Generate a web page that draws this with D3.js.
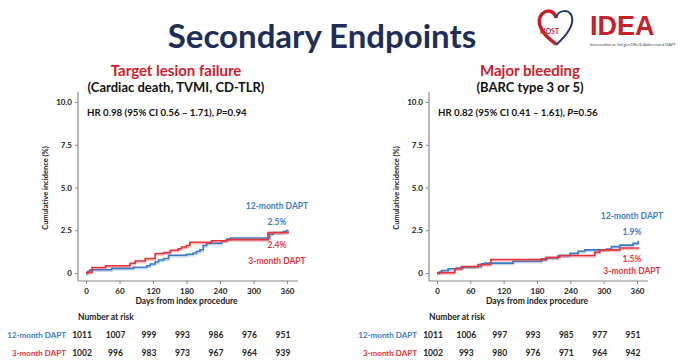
<!DOCTYPE html>
<html>
<head>
<meta charset="utf-8">
<script src="https://cdn.jsdelivr.net/npm/d3@7"></script>
<style>
  body { margin: 0; background: #fff; }
  text { font-family: Lato, "Open Sans", sans-serif; }
</style>
</head>
<body>
<svg id="chart" width="686" height="364"></svg>
<script>
// tick values
const dayTicks = [0, 60, 120, 180, 240, 300, 360];
const incTicks = [0, 2.5, 5, 7.5, 10];

// target lesion failure, [day, cumulative %]
const tlf12 = [[0,0],[3,0.1],[7,0.19],[46,0.27],[85,0.34],[109,0.42],[115,0.53],[124,0.66],[130,0.76],[139,0.85],[148,1.04],[180,1.1],[192,1.17],[198,1.27],[204,1.36],[210,1.61],[216,1.74],[243,1.89],[252,1.99],[258,2.05],[329,2.27],[335,2.37],[353,2.42],[359,2.48],[362,2.5]];
const tlf3 = [[0,0],[3,0.04],[11,0.32],[35,0.42],[79,0.57],[88,0.7],[106,0.85],[124,1.14],[139,1.19],[151,1.33],[165,1.42],[171,1.52],[180,1.61],[186,1.8],[225,1.89],[252,1.95],[326,2.37],[362,2.4]];

// major bleeding
const mb12 = [[0,0],[4,0.06],[8,0.15],[20,0.25],[35,0.29],[47,0.35],[68,0.38],[80,0.54],[86,0.58],[137,0.69],[188,0.77],[197,0.88],[218,1.02],[239,1.15],[254,1.27],[266,1.35],[305,1.4],[314,1.54],[329,1.63],[353,1.73],[362,1.88]];
const mb3 = [[0,0],[4,0.02],[32,0.25],[44,0.38],[74,0.5],[97,0.79],[188,0.83],[197,0.92],[221,1.02],[284,1.21],[293,1.35],[329,1.46],[362,1.5]];

// number at risk
const risk12Tlf = [1011, 1007, 999, 993, 986, 976, 951];
const risk3Tlf = [1002, 996, 983, 973, 967, 964, 939];
const risk12Mb = [1011, 1006, 997, 993, 985, 977, 951];
const risk3Mb = [1002, 993, 980, 976, 971, 964, 942];

const blue = "#3a7bc4", red = "#e8323a", navy = "#1f2d5a";

let svg = d3.select("#chart");

// main title
svg.append("text")
    .attr("x", 322).attr("y", 48)
    .attr("text-anchor", "middle")
    .style("font-weight", "bold").style("font-size", "33px")
    .style("fill", navy)
    .text("Secondary Endpoints");

// logo
let logo = svg.append("g").attr("transform", "translate(536,6)");
logo.append("path")
    .attr("d", "M20,38 C4,27 0,15 6,8 C12,2 19,6 20,12")
    .attr("fill", "none").attr("stroke", "#c8202a").attr("stroke-width", 3.5);
logo.append("path")
    .attr("d", "M20,12 C22,4 33,2 36,11 C38,20 30,30 20,39")
    .attr("fill", "none").attr("stroke", "#223b7a").attr("stroke-width", 2);
logo.append("text").attr("x", 4).attr("y", 28)
    .style("font-size", "7px").style("font-weight", "bold").style("fill", "#c8202a").text("HOST");
logo.append("text").attr("x", 54).attr("y", 29)
    .style("font-size", "27px").style("font-weight", "bold").style("fill", "#c8202a")
    .style("font-family", "'Liberation Sans', Arial, sans-serif").text("IDEA");
logo.append("text").attr("x", 54).attr("y", 40)
    .style("font-size", "4px").style("fill", "#444")
    .text("Intervention w 3rd gen DEs & Abbreviated DAPT");

function drawPanel(p) {
    let x = d3.scaleLinear().domain([0, 360]).range([p.x0, p.x1]),
        y = d3.scaleLinear().domain([0, 10]).range([273, 102]);

    let g = svg.append("g");

    // titles
    g.append("text").attr("x", p.cx).attr("y", 76)
        .attr("text-anchor", "middle")
        .style("font-weight", "bold").style("font-size", "15px").style("fill", "#d0202a")
        .text(p.title);
    g.append("text").attr("x", p.cx).attr("y", 92)
        .attr("text-anchor", "middle")
        .style("font-weight", "bold").style("font-size", "13px").style("fill", "#111")
        .text(p.subtitle);

    // y axis
    let ya = g.append("g").attr("transform", "translate(" + p.ax + ",0)")
        .call(d3.axisLeft(y).tickValues(incTicks).tickSize(3)
            .tickFormat(function(d) { return d === 0 ? "0" : d3.format(".1f")(d); }));
    ya.select(".domain").remove();
    ya.selectAll("line").attr("stroke", "#888");
    ya.selectAll("text").attr("x", -6).style("font-size", "8px").style("font-weight", "bold")
        .style("font-family", "Lato, sans-serif").style("fill", "#222");

    // x axis
    let xa = g.append("g").attr("transform", "translate(0,281)")
        .call(d3.axisBottom(x).tickValues(dayTicks).tickSize(3));
    xa.select(".domain").remove();
    xa.selectAll("line").attr("stroke", "#888");
    xa.selectAll("text").attr("y", 7).style("font-size", "8px").style("font-weight", "bold")
        .style("font-family", "Lato, sans-serif").style("fill", "#222");

    g.append("line").attr("x1", p.ax).attr("x2", p.ax).attr("y1", 92).attr("y2", 281)
        .attr("stroke", "#888").attr("stroke-width", 1.2);
    g.append("line").attr("x1", p.ax).attr("x2", p.x1 + 11).attr("y1", 281).attr("y2", 281)
        .attr("stroke", "#888").attr("stroke-width", 1.2);

    // axis titles
    g.append("text")
        .attr("transform", "translate(" + (p.ax - 30) + ",188) rotate(-90)")
        .attr("text-anchor", "middle")
        .style("font-size", "7.5px").style("font-weight", "bold").style("fill", "#222")
        .text("Cumulative incidence (%)");
    g.append("text").attr("x", (p.x0 + p.x1) / 2).attr("y", 304)
        .attr("text-anchor", "middle")
        .style("font-size", "8.5px").style("font-weight", "bold").style("fill", "#222")
        .text("Days from index procedure");

    g.append("text").attr("x", p.x0 + 1).attr("y", 116)
        .style("font-size", "9.7px").style("font-weight", "bold").style("fill", "#111")
        .html(p.hr);

    // curves
    let line = d3.line().curve(d3.curveStepAfter)
        .x(function(d) { return x(d[0]); })
        .y(function(d) { return y(d[1]); });

    [[p.s12, blue], [p.s3, red]].forEach(function(s) {
        g.append("path").datum(s[0])
            .attr("d", line)
            .attr("transform", "translate(0,1.2)")
            .attr("fill", "none").attr("stroke", s[1]).attr("stroke-opacity", 0.3).attr("stroke-width", 2);
        g.append("path").datum(s[0])
            .attr("d", line)
            .attr("fill", "none").attr("stroke", s[1]).attr("stroke-width", 1.6);
    });

    // curve labels
    let lab = function(txt, yy, col) {
        g.append("text").attr("x", p.lx).attr("y", yy)
            .attr("text-anchor", "middle")
            .style("font-size", "8.5px").style("font-weight", "bold").style("fill", col)
            .text(txt);
    };
    lab("12-month DAPT", p.ly[0], blue);
    lab(p.pct[0], p.ly[1], blue);
    lab(p.pct[1], p.ly[2], red);
    lab("3-month DAPT", p.ly[3], red);

    // number at risk
    g.append("text").attr("x", p.ax).attr("y", 320)
        .style("font-size", "8.5px").style("font-weight", "bold").style("fill", "#222")
        .text("Number at risk");
    g.append("text").attr("x", p.ax - 12).attr("y", 338).attr("text-anchor", "end")
        .style("font-size", "8px").style("font-weight", "bold").style("fill", blue)
        .text("12-month DAPT");
    g.append("text").attr("x", p.ax - 12).attr("y", 356).attr("text-anchor", "end")
        .style("font-size", "8px").style("font-weight", "bold").style("fill", red)
        .text("3-month DAPT");
    [[p.r12, 338], [p.r3, 356]].forEach(function(r) {
        g.selectAll(null).data(r[0]).enter().append("text")
            .attr("x", function(d, i) { return x(dayTicks[i]) - 4; })
            .attr("y", r[1])
            .attr("text-anchor", "middle")
            .style("font-size", "8.5px").style("font-weight", "bold").style("fill", "#222")
            .text(function(d) { return d; });
    });
}

drawPanel({
    x0: 86, x1: 287, ax: 78, cx: 176,
    title: "Target lesion failure", subtitle: "(Cardiac death, TVMI, CD-TLR)",
    hr: "HR 0.98 (95% CI 0.56 \u2013 1.71), <tspan font-style='italic'>P</tspan>=0.94",
    s12: tlf12, s3: tlf3, r12: risk12Tlf, r3: risk3Tlf,
    lx: 277, ly: [209, 225, 248, 264], pct: ["2.5%", "2.4%"]
});

drawPanel({
    x0: 437, x1: 637, ax: 429, cx: 530,
    title: "Major bleeding", subtitle: "(BARC type 3 or 5)",
    hr: "HR 0.82 (95% CI 0.41 \u2013 1.61), <tspan font-style='italic'>P</tspan>=0.56",
    s12: mb12, s3: mb3, r12: risk12Mb, r3: risk3Mb,
    lx: 632, ly: [219, 235, 262, 274], pct: ["1.9%", "1.5%"]
});
</script>
</body>
</html>
